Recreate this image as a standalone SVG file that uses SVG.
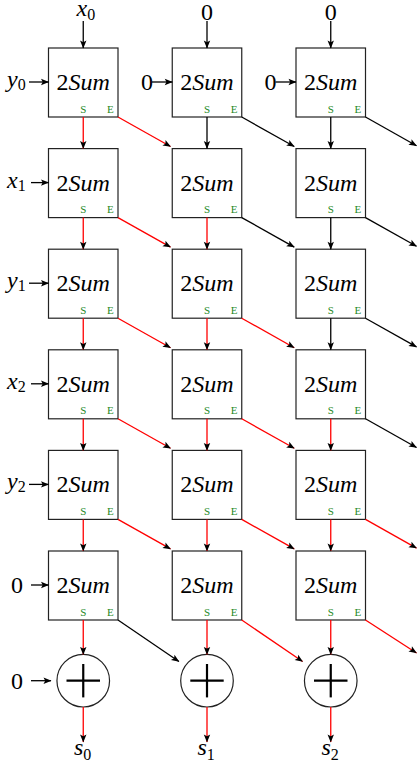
<svg xmlns="http://www.w3.org/2000/svg" width="417" height="766" viewBox="0 0 417 766" font-family="'Liberation Serif', 'DejaVu Serif', 'Times New Roman', serif">
<style>
.box{fill:#fff;stroke:#222;stroke-width:1.2}
.t{font-family:'Liberation Serif','DejaVu Serif','Times New Roman',serif;font-size:24px;fill:#000}
.it{font-style:italic}
.sub{font-size:16px;font-style:normal}
.se{font-family:'Liberation Serif','DejaVu Serif','Times New Roman',serif;font-size:11px;fill:#1f8a1f;text-anchor:middle}
.k{stroke:#000;stroke-width:1.3;fill:none;marker-end:url(#ah)}
.r{stroke:#f00;stroke-width:1.3;fill:none;marker-end:url(#ah)}
.circ{fill:#fff;stroke:#222;stroke-width:1.2}
.plus{stroke:#000;stroke-width:2.2}
</style>
<defs>
<marker id="ah" viewBox="-8 -4 9 8" refX="0" refY="0" markerWidth="9" markerHeight="8" markerUnits="userSpaceOnUse" orient="auto">
<path d="M0.5,0 L-7.5,-3.2 L-5.8,0 L-7.5,3.2 z" fill="#000"/>
</marker>
</defs>

<g id="inputs">
<text class="t it" x="76.5" y="16">x<tspan class="sub" dy="4">0</tspan></text>
<text class="t" x="207" y="20" text-anchor="middle">0</text>
<text class="t" x="330.75" y="20" text-anchor="middle">0</text>
<text class="t it" x="7" y="87">y<tspan class="sub" dy="3">0</tspan></text>
<text class="t" x="141" y="90">0</text>
<text class="t" x="264.5" y="90">0</text>
<text class="t it" x="7" y="188">x<tspan class="sub" dy="3">1</tspan></text>
<text class="t it" x="7" y="288">y<tspan class="sub" dy="3">1</tspan></text>
<text class="t it" x="7" y="389">x<tspan class="sub" dy="3">2</tspan></text>
<text class="t it" x="7" y="489">y<tspan class="sub" dy="3">2</tspan></text>
<text class="t" x="11" y="593">0</text>
<text class="t" x="11" y="689">0</text>
</g>

<g id="outputs">
<text class="t it" x="74" y="755">s<tspan class="sub" dy="5">0</tspan></text>
<text class="t it" x="197.5" y="755">s<tspan class="sub" dy="5">1</tspan></text>
<text class="t it" x="321.5" y="755">s<tspan class="sub" dy="5">2</tspan></text>
</g>

<g id="n_0_0"><rect class="box" x="48.5" y="48" width="69.5" height="69"/><text class="t" x="83.25" y="90" text-anchor="middle">2<tspan class="it">Sum</tspan></text><text class="se" x="83.25" y="112.5">S</text><text class="se" x="110.3" y="112.5">E</text></g>
<g id="n_0_1"><rect class="box" x="172.25" y="48" width="69.5" height="69"/><text class="t" x="207" y="90" text-anchor="middle">2<tspan class="it">Sum</tspan></text><text class="se" x="207" y="112.5">S</text><text class="se" x="234" y="112.5">E</text></g>
<g id="n_0_2"><rect class="box" x="296" y="48" width="69.5" height="69"/><text class="t" x="330.75" y="90" text-anchor="middle">2<tspan class="it">Sum</tspan></text><text class="se" x="330.75" y="112.5">S</text><text class="se" x="357.8" y="112.5">E</text></g>

<g id="n_1_0"><rect class="box" x="48.5" y="148.6" width="69.5" height="69"/><text class="t" x="83.25" y="190.6" text-anchor="middle">2<tspan class="it">Sum</tspan></text><text class="se" x="83.25" y="213.1">S</text><text class="se" x="110.3" y="213.1">E</text></g>
<g id="n_1_1"><rect class="box" x="172.25" y="148.6" width="69.5" height="69"/><text class="t" x="207" y="190.6" text-anchor="middle">2<tspan class="it">Sum</tspan></text><text class="se" x="207" y="213.1">S</text><text class="se" x="234" y="213.1">E</text></g>
<g id="n_1_2"><rect class="box" x="296" y="148.6" width="69.5" height="69"/><text class="t" x="330.75" y="190.6" text-anchor="middle">2<tspan class="it">Sum</tspan></text><text class="se" x="330.75" y="213.1">S</text><text class="se" x="357.8" y="213.1">E</text></g>

<g id="n_2_0"><rect class="box" x="48.5" y="249.2" width="69.5" height="69"/><text class="t" x="83.25" y="291.2" text-anchor="middle">2<tspan class="it">Sum</tspan></text><text class="se" x="83.25" y="313.7">S</text><text class="se" x="110.3" y="313.7">E</text></g>
<g id="n_2_1"><rect class="box" x="172.25" y="249.2" width="69.5" height="69"/><text class="t" x="207" y="291.2" text-anchor="middle">2<tspan class="it">Sum</tspan></text><text class="se" x="207" y="313.7">S</text><text class="se" x="234" y="313.7">E</text></g>
<g id="n_2_2"><rect class="box" x="296" y="249.2" width="69.5" height="69"/><text class="t" x="330.75" y="291.2" text-anchor="middle">2<tspan class="it">Sum</tspan></text><text class="se" x="330.75" y="313.7">S</text><text class="se" x="357.8" y="313.7">E</text></g>

<g id="n_3_0"><rect class="box" x="48.5" y="349.8" width="69.5" height="69"/><text class="t" x="83.25" y="391.8" text-anchor="middle">2<tspan class="it">Sum</tspan></text><text class="se" x="83.25" y="414.3">S</text><text class="se" x="110.3" y="414.3">E</text></g>
<g id="n_3_1"><rect class="box" x="172.25" y="349.8" width="69.5" height="69"/><text class="t" x="207" y="391.8" text-anchor="middle">2<tspan class="it">Sum</tspan></text><text class="se" x="207" y="414.3">S</text><text class="se" x="234" y="414.3">E</text></g>
<g id="n_3_2"><rect class="box" x="296" y="349.8" width="69.5" height="69"/><text class="t" x="330.75" y="391.8" text-anchor="middle">2<tspan class="it">Sum</tspan></text><text class="se" x="330.75" y="414.3">S</text><text class="se" x="357.8" y="414.3">E</text></g>

<g id="n_4_0"><rect class="box" x="48.5" y="450.4" width="69.5" height="69"/><text class="t" x="83.25" y="492.4" text-anchor="middle">2<tspan class="it">Sum</tspan></text><text class="se" x="83.25" y="514.9">S</text><text class="se" x="110.3" y="514.9">E</text></g>
<g id="n_4_1"><rect class="box" x="172.25" y="450.4" width="69.5" height="69"/><text class="t" x="207" y="492.4" text-anchor="middle">2<tspan class="it">Sum</tspan></text><text class="se" x="207" y="514.9">S</text><text class="se" x="234" y="514.9">E</text></g>
<g id="n_4_2"><rect class="box" x="296" y="450.4" width="69.5" height="69"/><text class="t" x="330.75" y="492.4" text-anchor="middle">2<tspan class="it">Sum</tspan></text><text class="se" x="330.75" y="514.9">S</text><text class="se" x="357.8" y="514.9">E</text></g>

<g id="n_5_0"><rect class="box" x="48.5" y="551" width="69.5" height="69"/><text class="t" x="83.25" y="593" text-anchor="middle">2<tspan class="it">Sum</tspan></text><text class="se" x="83.25" y="615.5">S</text><text class="se" x="110.3" y="615.5">E</text></g>
<g id="n_5_1"><rect class="box" x="172.25" y="551" width="69.5" height="69"/><text class="t" x="207" y="593" text-anchor="middle">2<tspan class="it">Sum</tspan></text><text class="se" x="207" y="615.5">S</text><text class="se" x="234" y="615.5">E</text></g>
<g id="n_5_2"><rect class="box" x="296" y="551" width="69.5" height="69"/><text class="t" x="330.75" y="593" text-anchor="middle">2<tspan class="it">Sum</tspan></text><text class="se" x="330.75" y="615.5">S</text><text class="se" x="357.8" y="615.5">E</text></g>

<g id="add_0"><circle class="circ" cx="83.25" cy="680.7" r="26.3"/><line class="plus" x1="66.5" y1="680.7" x2="100" y2="680.7"/><line class="plus" x1="83.25" y1="664" x2="83.25" y2="697.4"/></g>
<g id="add_1"><circle class="circ" cx="207" cy="680.7" r="26.3"/><line class="plus" x1="190.3" y1="680.7" x2="223.7" y2="680.7"/><line class="plus" x1="207" y1="664" x2="207" y2="697.4"/></g>
<g id="add_2"><circle class="circ" cx="330.75" cy="680.7" r="26.3"/><line class="plus" x1="314" y1="680.7" x2="347.5" y2="680.7"/><line class="plus" x1="330.75" y1="664" x2="330.75" y2="697.4"/></g>

<g id="connectors">
<line class="k" x1="83.25" y1="21" x2="83.25" y2="48"/>
<line class="k" x1="207" y1="21" x2="207" y2="48"/>
<line class="k" x1="330.75" y1="21" x2="330.75" y2="48"/>
<line class="k" x1="29" y1="82" x2="48.5" y2="82"/>
<line class="k" x1="152" y1="82" x2="172.25" y2="82"/>
<line class="k" x1="275.5" y1="82" x2="296" y2="82"/>
<line class="k" x1="31" y1="182.6" x2="48.5" y2="182.6"/>
<line class="k" x1="29" y1="283.2" x2="48.5" y2="283.2"/>
<line class="k" x1="31" y1="383.8" x2="48.5" y2="383.8"/>
<line class="k" x1="29" y1="484.4" x2="48.5" y2="484.4"/>
<line class="k" x1="31" y1="585" x2="48.5" y2="585"/>
<line class="k" x1="31" y1="680.7" x2="51" y2="680.7"/>

<line class="r" x1="83.25" y1="117" x2="83.25" y2="148.6"/>
<line class="r" x1="118" y1="117" x2="170.5" y2="146.5"/>
<line class="k" x1="207" y1="117" x2="207" y2="148.6"/>
<line class="k" x1="241.75" y1="117" x2="294.25" y2="146.5"/>
<line class="k" x1="330.75" y1="117" x2="330.75" y2="148.6"/>
<line class="k" x1="365.5" y1="117" x2="416.5" y2="145.7"/>

<line class="r" x1="83.25" y1="217.6" x2="83.25" y2="249.2"/>
<line class="r" x1="118" y1="217.6" x2="170.5" y2="247.1"/>
<line class="r" x1="207" y1="217.6" x2="207" y2="249.2"/>
<line class="k" x1="241.75" y1="217.6" x2="294.25" y2="247.1"/>
<line class="k" x1="330.75" y1="217.6" x2="330.75" y2="249.2"/>
<line class="k" x1="365.5" y1="217.6" x2="416.5" y2="246.3"/>

<line class="r" x1="83.25" y1="318.2" x2="83.25" y2="349.8"/>
<line class="r" x1="118" y1="318.2" x2="170.5" y2="347.7"/>
<line class="r" x1="207" y1="318.2" x2="207" y2="349.8"/>
<line class="r" x1="241.75" y1="318.2" x2="294.25" y2="347.7"/>
<line class="k" x1="330.75" y1="318.2" x2="330.75" y2="349.8"/>
<line class="k" x1="365.5" y1="318.2" x2="416.5" y2="346.9"/>

<line class="r" x1="83.25" y1="418.8" x2="83.25" y2="450.4"/>
<line class="r" x1="118" y1="418.8" x2="170.5" y2="448.3"/>
<line class="r" x1="207" y1="418.8" x2="207" y2="450.4"/>
<line class="r" x1="241.75" y1="418.8" x2="294.25" y2="448.3"/>
<line class="r" x1="330.75" y1="418.8" x2="330.75" y2="450.4"/>
<line class="k" x1="365.5" y1="418.8" x2="416.5" y2="447.5"/>

<line class="r" x1="83.25" y1="519.4" x2="83.25" y2="551"/>
<line class="r" x1="118" y1="519.4" x2="170.5" y2="548.9"/>
<line class="r" x1="207" y1="519.4" x2="207" y2="551"/>
<line class="r" x1="241.75" y1="519.4" x2="294.25" y2="548.9"/>
<line class="r" x1="330.75" y1="519.4" x2="330.75" y2="551"/>
<line class="r" x1="365.5" y1="519.4" x2="416.5" y2="548.1"/>

<line class="r" x1="83.25" y1="620" x2="83.25" y2="654.4"/>
<line class="k" x1="118" y1="620" x2="178.9" y2="661.5"/>
<line class="r" x1="207" y1="620" x2="207" y2="654.4"/>
<line class="r" x1="241.75" y1="620" x2="302.6" y2="661.5"/>
<line class="r" x1="330.75" y1="620" x2="330.75" y2="654.4"/>
<line class="r" x1="365.5" y1="620" x2="416.5" y2="653"/>

<line class="r" x1="83.25" y1="707" x2="83.25" y2="742"/>
<line class="r" x1="207" y1="707" x2="207" y2="742"/>
<line class="r" x1="330.75" y1="707" x2="330.75" y2="742"/>
</g>
</svg>
